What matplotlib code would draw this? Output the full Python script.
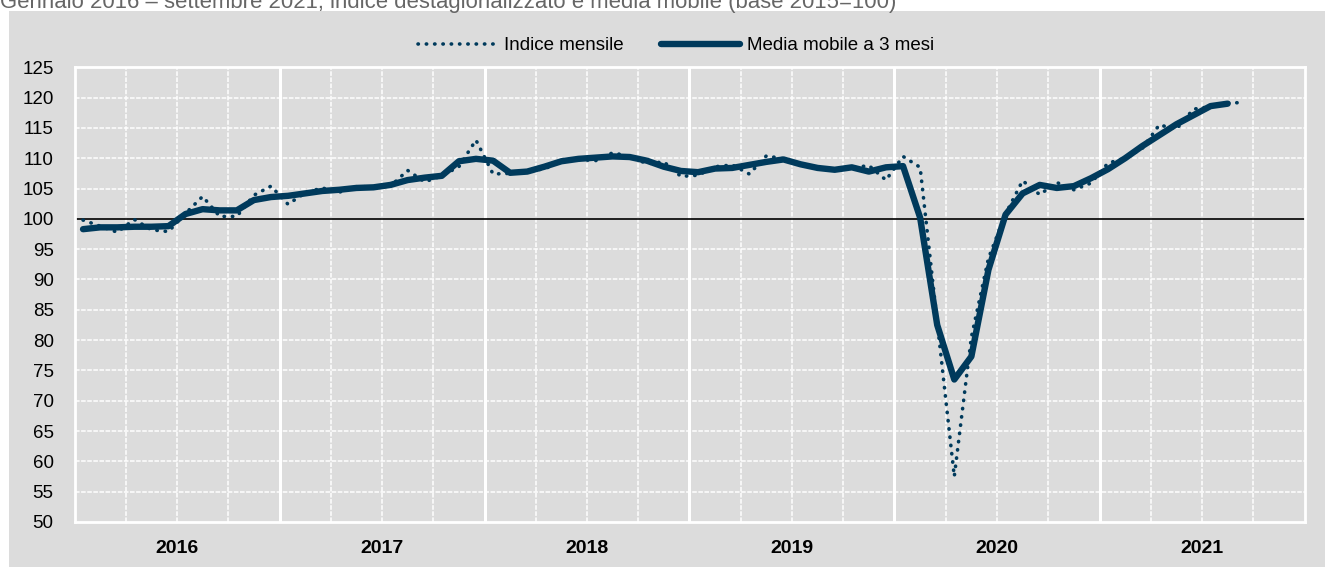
import matplotlib.pyplot as plt
from matplotlib.patches import Rectangle
import numpy as np

# Gennaio 2016 - settembre 2021
anni = ["2016", "2017", "2018", "2019", "2020", "2021"]

indice_mensile = [
    99.8, 98.8, 97.8, 99.9, 98.2, 97.9, 100.9, 103.7, 100.4, 100.4, 103.9, 105.4,
    102.4, 104.3, 105.1, 104.4, 105.3, 105.3, 105.4, 108.0, 106.1, 107.1, 108.6, 113.0,
    107.4, 107.5, 108.0, 108.2, 109.6, 109.8, 109.6, 110.9, 110.3, 109.1, 109.4, 107.0,
    107.2, 108.6, 108.9, 107.4, 110.4, 109.9, 108.9, 108.3, 108.2, 108.4, 108.8, 106.4,
    110.3, 108.5, 83.0, 57.5, 80.5, 93.5, 100.8, 106.3, 104.0, 106.0, 104.8, 105.9,
    109.2, 110.0, 111.6, 115.5, 114.8, 118.1, 118.5, 119.1, 119.2,
]

media_mobile = [
    98.3, 98.6, 98.6, 98.7, 98.7, 98.8, 100.8, 101.6, 101.4, 101.4, 103.1, 103.6,
    103.8, 104.2, 104.6, 104.8, 105.1, 105.2, 105.6, 106.4, 106.8, 107.1, 109.5, 109.9,
    109.6, 107.6, 107.8, 108.6, 109.5, 109.9, 110.1, 110.3, 110.2, 109.6, 108.6, 107.9,
    107.7, 108.3, 108.4, 108.9, 109.4, 109.8, 109.0, 108.4, 108.1, 108.5, 107.8, 108.5,
    108.7, 100.2, 82.5, 73.5, 77.3, 91.6, 100.7, 104.2, 105.6, 105.1, 105.4, 106.7,
    108.2, 110.0, 112.0, 113.8, 115.6, 117.1, 118.6, 119.0,
]

titolo = "Gennaio 2016 \u2013 settembre 2021, indice destagionalizzato e media mobile (base 2015=100)"

plt.rcParams['font.family'] = ['Liberation Sans', 'DejaVu Sans']

W, H = 1325, 567
blu = '#003a5c'
grigio = '#dcdcdc'

fig = plt.figure(figsize=(W / 100, H / 100), dpi=100)

# sfondo grigio del riquadro (dietro agli assi)
fig.patches.append(Rectangle((9 / W, 0), 1, 1 - 11 / H, transform=fig.transFigure,
                             facecolor=grigio, edgecolor='none', zorder=-10))

# titolo tagliato in alto, come nell'originale
fig.text(0.0, 1 - 8 / H, titolo, fontsize=15.9, color='#666666', va='baseline', ha='left')

left, right, top, bottom = 74.5, 1304.5, 67.3, 522
ax = fig.add_axes([left / W, 1 - bottom / H, (right - left) / W, (bottom - top) / H])
ax.set_zorder(1)
ax.set_facecolor(grigio)

n_mesi = 12 * len(anni)
ax.set_xlim(-0.5, n_mesi - 0.5)
ax.set_ylim(50, 125)

# griglia
for y in range(55, 125, 5):
    if y != 100:
        ax.axhline(y, color='white', lw=1.1, ls=(0, (3, 1)), zorder=1)
for k in range(len(anni)):
    for q in (2.5, 5.5, 8.5):
        ax.axvline(12 * k + q, color='white', lw=1.1, ls=(0, (3, 1)), zorder=1)
    if k > 0:
        ax.axvline(12 * k - 0.5, color='white', lw=2.2, zorder=1)
ax.axhline(100, color='black', lw=1.2, zorder=2)

x_ind = np.arange(len(indice_mensile))
x_mm = np.arange(len(media_mobile))
ax.plot(x_ind, indice_mensile, color=blu, lw=2.6, ls=(0, (0.1, 2.2)),
        dash_capstyle='round', label='Indice mensile', zorder=3)
ax.plot(x_mm, media_mobile, color=blu, lw=4.6, solid_capstyle='round',
        solid_joinstyle='round', label='Media mobile a 3 mesi', zorder=4)

for s in ax.spines.values():
    s.set_color('white')
    s.set_linewidth(2)

ax.set_yticks(range(50, 126, 5))
ax.set_xticks([12 * k + 5.5 for k in range(len(anni))])
ax.set_xticklabels(anni, fontweight='bold', fontsize=14)
ax.tick_params(axis='y', length=0, pad=15, labelsize=13.5, colors='black')
ax.tick_params(axis='x', length=0, pad=13, colors='black')

ax.legend(loc='center', bbox_to_anchor=(0.489, 1.047), ncol=2, frameon=False,
          fontsize=13.5, handlelength=4.2, columnspacing=2.0, handletextpad=0.4)

fig.savefig('out.png', dpi=100)
